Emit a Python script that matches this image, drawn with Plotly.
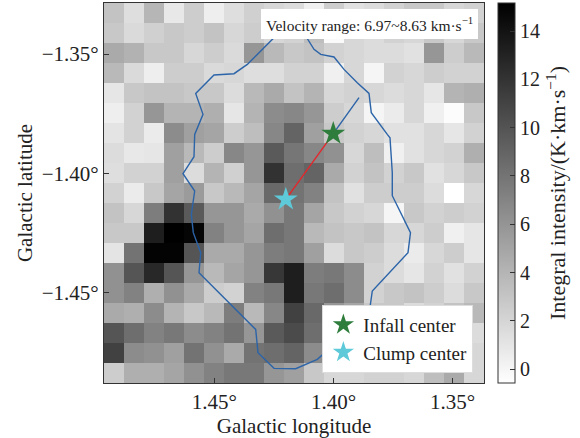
import numpy as np
import plotly.graph_objects as go

# Integrated intensity map (K km/s), rows from north (top) to south, columns from east (left) to west
intensity = [
    [3.13, 1.46, 3.93, 0.85, 2.51, 0.48, 1.46, 2.33, 1.90, 1.59, 0.35, 2.51, 1.28, 1.59, 2.20, 2.82, 2.82, 1.90, 2.20],
    [2.82, 1.71, 2.33, 2.82, 2.51, 3.13, 1.90, 2.51, 1.90, 2.20, 3.44, -0.26, 1.90, 1.59, 2.20, 1.90, 2.82, 1.90, 2.82],
    [4.67, 4.18, 2.82, 2.82, 1.90, 2.51, 1.71, 5.91, 3.75, 2.82, 3.13, 2.20, 1.90, 1.59, 1.59, 1.28, 5.91, 2.51, 3.75],
    [3.75, 1.71, 0.48, 2.51, 2.51, 1.71, 1.90, 1.46, 1.46, 2.20, 2.20, 0.35, 1.90, 0.05, 2.20, 1.90, 2.51, 2.20, 2.20],
    [0.97, 2.82, 3.13, 3.13, 2.82, 2.82, 1.59, 3.75, 4.67, 3.13, 4.06, 1.90, 2.20, 1.90, 1.59, 1.90, 0.97, 4.06, 4.36],
    [0.48, 2.20, 5.91, 4.06, 4.06, 4.36, 0.97, 4.06, 6.52, 6.83, 5.91, 2.51, 1.90, 0.05, 0.66, 1.90, 0.35, -0.39, 2.82],
    [1.09, 2.20, 0.66, 6.52, 5.29, 4.98, 2.51, 3.44, 6.83, 8.99, 5.29, 2.82, 2.20, 1.90, 1.28, 1.28, 1.90, 0.97, 2.20],
    [1.59, 0.85, 0.97, 5.29, 3.75, 2.51, 6.83, 5.91, 9.61, 7.88, 6.83, 6.21, 1.90, 3.44, 0.35, 1.28, 1.90, 2.20, 4.36],
    [1.46, 2.20, 2.20, 5.29, 1.59, 4.06, 2.33, 5.91, 12.08, 8.37, 8.99, 4.67, 2.20, 3.13, 2.20, 2.82, 1.28, 1.90, 2.82],
    [2.20, 0.66, 2.82, 4.98, 5.60, 2.82, 3.75, 4.98, 8.68, 8.07, 7.14, 3.13, 1.28, 2.51, 2.51, 2.51, 1.59, -0.57, 1.90],
    [3.13, 1.90, 7.45, 12.08, 9.61, 5.91, 5.91, 4.67, 6.21, 7.76, 4.98, 2.82, 2.20, 1.90, 0.05, 2.82, 2.20, 2.51, 2.20],
    [2.82, 2.82, 13.31, 15.16, 14.85, 7.14, 5.91, 4.98, 8.37, 7.76, 3.75, 3.13, 2.82, 3.13, 1.90, 1.90, 2.51, 0.35, 0.97],
    [1.09, 8.07, 14.95, 14.95, 9.92, 4.67, 4.67, 5.91, 7.45, 7.76, 5.29, 1.59, 2.82, 2.51, 1.59, 0.66, 1.90, 2.51, 0.97],
    [6.21, 9.92, 12.69, 9.92, 5.91, 3.75, 4.98, 5.91, 11.77, 13.31, 7.45, 7.76, 6.52, 2.20, 1.59, 0.97, 2.20, 1.28, 2.20],
    [6.21, 7.14, 4.36, 6.21, 4.67, 2.51, 2.20, 7.14, 7.76, 13.31, 7.76, 8.37, 6.52, 2.20, 2.82, 3.13, 2.51, 1.59, 2.82],
    [4.67, 4.36, 6.52, 4.06, 2.82, 3.75, 7.45, 3.75, 6.83, 11.15, 8.68, 5.91, 4.98, 2.82, 2.82, 1.59, 2.20, 3.13, 3.75],
    [9.92, 8.37, 7.14, 7.76, 6.52, 7.14, 8.07, 5.91, 9.61, 10.53, 8.37, 5.29, 3.44, 2.82, 2.20, 2.82, 2.51, 2.20, 1.59],
    [11.15, 6.52, 6.21, 5.29, 8.07, 6.21, 4.67, 8.07, 8.37, 8.99, 6.52, 3.44, 2.82, 2.51, 2.82, 2.20, 2.20, 2.82, 1.90],
    [2.51, 4.36, 4.36, 4.98, 6.21, 7.14, 7.76, 7.76, 5.91, 5.29, 2.82, 1.90, 1.90, 2.20, 2.20, 1.90, 3.44, 4.67, 1.90],
]

# Map footprint (degrees): outer pixel edges
lon_east, lon_west = 1.49627, 1.33687
lat_north, lat_south = -1.32866, -1.48766
n_rows, n_cols = len(intensity), len(intensity[0])

# Clump boundary (Galactic lon, lat)
contour_lon = [1.42425, 1.43616, 1.44174, 1.45013, 1.45781, 1.45474, 1.45823, 1.45852, 1.46313,
               1.45823, 1.45965, 1.45881, 1.45571, 1.45642, 1.43264, 1.43167, 1.42496, 1.41586,
               1.40680, 1.38511, 1.38373, 1.36875, 1.36771, 1.37182, 1.37534, 1.37534, 1.37630,
               1.37744, 1.38415, 1.38511, 1.39002, 1.39560, 1.39979, 1.40537, 1.40818, 1.41166,
               1.41406, 1.42161, 1.42425]
contour_lat = [-1.34247, -1.35435, -1.35824, -1.35878, -1.36648, -1.37527, -1.38364, -1.39297, -1.40008,
               -1.40732, -1.41711, -1.42477, -1.43313, -1.44150, -1.46523, -1.47497, -1.48154, -1.48167,
               -1.47778, -1.45895, -1.44916, -1.43313, -1.42477, -1.41640, -1.40929, -1.39966, -1.38502,
               -1.38364, -1.37456, -1.36648, -1.36201, -1.35644, -1.35125, -1.35017, -1.34807, -1.34247,
               -1.33774, -1.33774, -1.34247]

# Centres
infall_lon, infall_lat = 1.4001, -1.3833
clump_lon, clump_lat = 1.4200, -1.4108
# End of the infall direction ray
ray_end_lon, ray_end_lat = 1.38931, -1.36828

x_ticks = [1.45, 1.40, 1.35]
x_ticktext = ["1.45°", "1.40°", "1.35°"]
y_ticks = [-1.35, -1.40, -1.45]
y_ticktext = ["−1.35°", "−1.40°", "−1.45°"]
cbar_ticks = [0, 2, 4, 6, 8, 10, 12, 14]

FONT = "Liberation Serif"
INK = "#222222"

dlon = (lon_east - lon_west) / n_cols
dlat = (lat_north - lat_south) / n_rows
lon_centres = np.linspace(lon_east - dlon / 2, lon_west + dlon / 2, n_cols)
lat_centres = np.linspace(lat_south + dlat / 2, lat_north - dlat / 2, n_rows)
z = intensity[::-1]  # south row first so latitude ascends

fig = go.Figure()

fig.add_trace(go.Heatmap(
    z=z, x=lon_centres, y=lat_centres,
    colorscale=[[0, "#ffffff"], [1, "#000000"]],
    zmin=-0.57, zmax=15.16,
    showscale=True,
    colorbar=dict(
        x=1.038, xanchor="left", xref="paper", xpad=0,
        y=0.5, yanchor="middle", len=1.0, lenmode="fraction", ypad=0,
        thickness=17, outlinewidth=1, outlinecolor="#333333",
        ticks="inside", ticklen=5, tickcolor="#333333",
        tickvals=cbar_ticks, tickprefix="\u00a0",
        tickfont=dict(family=FONT, size=20, color=INK),
        title=dict(text="\u00a0Integral intensity/(K·km·s<sup>−1</sup>)", side="right",
                   font=dict(family=FONT, size=22, color=INK)),
    ),
    showlegend=False,
    hoverinfo="skip",
))

fig.add_trace(go.Scatter(
    x=contour_lon, y=contour_lat, mode="lines",
    line=dict(color="#2c64a8", width=1.4), showlegend=False, hoverinfo="skip",
))

fig.add_trace(go.Scatter(
    x=[clump_lon, infall_lon], y=[clump_lat, infall_lat], mode="lines",
    line=dict(color="#e3262b", width=1.4), showlegend=False, hoverinfo="skip",
))
fig.add_trace(go.Scatter(
    x=[infall_lon, ray_end_lon], y=[infall_lat, ray_end_lat], mode="lines",
    line=dict(color="#2c64a8", width=1.4), showlegend=False, hoverinfo="skip",
))

fig.add_trace(go.Scatter(
    x=[infall_lon], y=[infall_lat], mode="markers", name="Infall center",
    marker=dict(symbol="star", size=18, color="#2e7d3c", line=dict(width=0)),
))
fig.add_trace(go.Scatter(
    x=[clump_lon], y=[clump_lat], mode="markers", name="Clump center",
    marker=dict(symbol="star", size=18, color="#5ec9d8", line=dict(width=0)),
))

fig.add_annotation(
    text="Velocity range: 6.97~8.63 km·s<sup>−1</sup>",
    xref="paper", yref="paper", x=0.984, y=0.985, xanchor="right", yanchor="top",
    showarrow=False, bgcolor="white", bordercolor="white", borderpad=4,
    font=dict(family=FONT, size=15.5, color=INK),
)

axis_common = dict(
    showgrid=False, zeroline=False, showline=True, mirror=True,
    linecolor="#333333", linewidth=1.3,
    ticks="inside", ticklen=5, tickcolor="#333333",
    tickfont=dict(family=FONT, size=21, color=INK),
)

fig.update_layout(
    width=580, height=438,
    margin=dict(l=104, r=96, t=3, b=55),
    paper_bgcolor="white", plot_bgcolor="white",
    xaxis=dict(range=[lon_east, lon_west], tickvals=x_ticks, ticktext=x_ticktext,
               title=dict(text="Galactic longitude", font=dict(family=FONT, size=21, color=INK), standoff=4),
               **axis_common),
    yaxis=dict(range=[lat_south, lat_north], tickvals=y_ticks, ticktext=y_ticktext,
               title=dict(text="Galactic latitude", font=dict(family=FONT, size=21, color=INK), standoff=3),
               **axis_common),
    legend=dict(
        x=0.972, y=0.027, xanchor="right", yanchor="bottom",
        bgcolor="white", bordercolor="#dddddd", borderwidth=1,
        font=dict(family=FONT, size=19, color=INK), itemwidth=30,
        tracegroupgap=0,
    ),
)

fig.write_html("out.html")
